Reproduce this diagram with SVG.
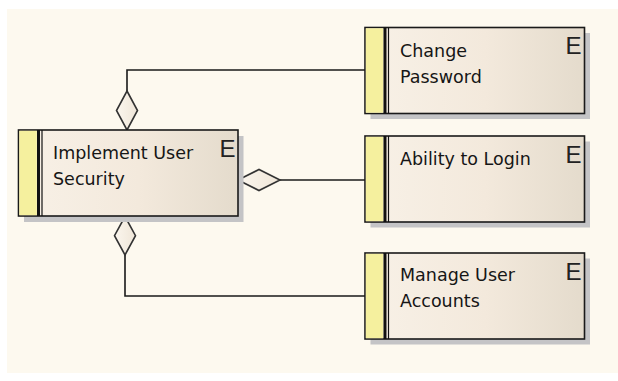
<svg xmlns="http://www.w3.org/2000/svg" width="618" height="381" viewBox="0 0 618 381">
<defs>
<linearGradient id="boxFill" x1="0" y1="0" x2="1" y2="0">
<stop offset="0" stop-color="#f8f1e7"/>
<stop offset="0.55" stop-color="#f3e9dc"/>
<stop offset="1" stop-color="#e4dbcc"/>
</linearGradient>
<linearGradient id="diaFill" x1="0" y1="0" x2="1" y2="0">
<stop offset="0" stop-color="#fbf6ee"/>
<stop offset="1" stop-color="#efe6d8"/>
</linearGradient>
</defs>
<style>
.shadow{fill:#c4c4c6}
.box{fill:url(#boxFill);stroke:#1a1a1a;stroke-width:1.6}
.bar{fill:#f5f09e;stroke:none}
.thick{stroke:#111;stroke-width:3}
.thin{stroke:#111;stroke-width:1.2}
.lbl{font-family:"DejaVu Sans",Verdana,sans-serif;font-size:17.5px;fill:#161616}
.e{font-family:"Liberation Sans",Arial,sans-serif;font-size:24px;fill:#222}
.conn{fill:none;stroke:#1a1a1a;stroke-width:1.6}
.dia{fill:url(#diaFill);stroke:#333;stroke-width:1.6}
</style>
<rect x="0" y="0" width="618" height="381" fill="#ffffff"/>
<rect x="7" y="9" width="611" height="364" fill="#fdf9ef"/>

<g id="connectors">
<polyline class="conn" points="127,91 127,70 365,70"/>
<polygon class="dia" points="127,91 137.5,110.5 127,130 116.5,110.5"/>
<polyline class="conn" points="280,180 365,180"/>
<polygon class="dia" points="238,180 259,169.5 280,180 259,190.5"/>
<polyline class="conn" points="125,255 125,296 365,296"/>
<polygon class="dia" points="125,216.5 135.5,235.7 125,255 114.5,235.7"/>
</g>

<g id="implement-user-security">
<rect class="shadow" x="24" y="136" width="219.5" height="86"/>
<rect class="box" x="18.5" y="130" width="219.5" height="86"/>
<rect class="bar" x="19.3" y="130.8" width="17.5" height="84.4"/>
<line class="thick" x1="38.5" y1="130" x2="38.5" y2="216"/>
<line class="thin" x1="42" y1="130" x2="42" y2="216"/>
<text class="lbl" x="53" y="159">Implement User</text>
<text class="lbl" x="53" y="185">Security</text>
<text class="e" x="219.5" y="156.5">E</text>
</g>

<g id="change-password">
<rect class="shadow" x="370.5" y="33" width="219.5" height="86"/>
<rect class="box" x="365" y="27.5" width="219.5" height="86"/>
<rect class="bar" x="365.8" y="28.3" width="17.5" height="84.4"/>
<line class="thick" x1="385" y1="27.5" x2="385" y2="113.5"/>
<line class="thin" x1="388.5" y1="27.5" x2="388.5" y2="113.5"/>
<text class="lbl" x="400" y="57">Change</text>
<text class="lbl" x="400" y="83">Password</text>
<text class="e" x="565.5" y="54">E</text>
</g>

<g id="ability-to-login">
<rect class="shadow" x="370.5" y="141.5" width="219.5" height="86"/>
<rect class="box" x="365" y="136" width="219.5" height="86"/>
<rect class="bar" x="365.8" y="136.8" width="17.5" height="84.4"/>
<line class="thick" x1="385" y1="136" x2="385" y2="222"/>
<line class="thin" x1="388.5" y1="136" x2="388.5" y2="222"/>
<text class="lbl" x="400" y="165">Ability to Login</text>
<text class="e" x="565.5" y="162.5">E</text>
</g>

<g id="manage-user-accounts">
<rect class="shadow" x="370.5" y="258.5" width="219.5" height="86"/>
<rect class="box" x="365" y="253" width="219.5" height="86"/>
<rect class="bar" x="365.8" y="253.8" width="17.5" height="84.4"/>
<line class="thick" x1="385" y1="253" x2="385" y2="339"/>
<line class="thin" x1="388.5" y1="253" x2="388.5" y2="339"/>
<text class="lbl" x="400" y="281">Manage User</text>
<text class="lbl" x="400" y="307">Accounts</text>
<text class="e" x="565.5" y="279.5">E</text>
</g>
</svg>
